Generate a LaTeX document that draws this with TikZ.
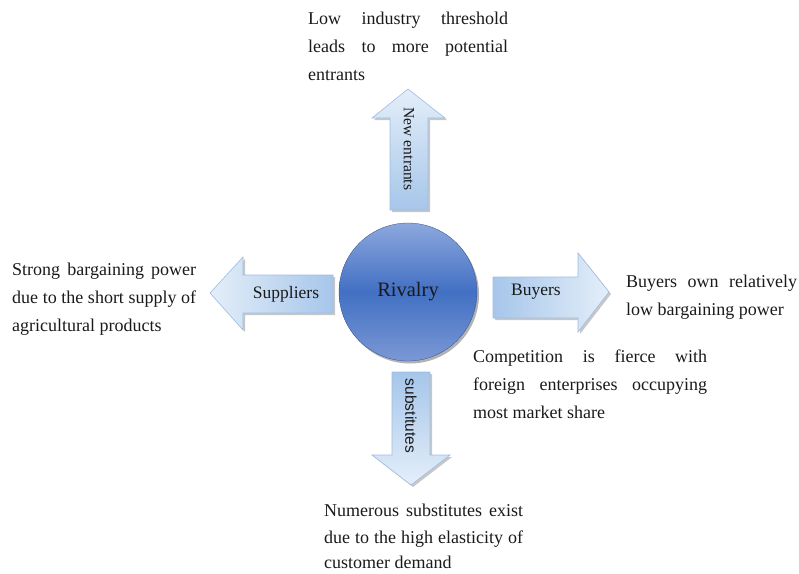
\documentclass[tikz,border=0pt]{standalone}
\usepackage{fontspec}
\setmainfont{Liberation Serif}
\newfontfamily\arialfont{Liberation Sans}
\usetikzlibrary{shadows}
\definecolor{arrlight}{HTML}{E4EEF9}
\definecolor{arrdark}{HTML}{A6C6EA}
\definecolor{arredge}{HTML}{9DBDE2}
\definecolor{ctop}{HTML}{8CA7DD}
\definecolor{cmid}{HTML}{4270C3}
\definecolor{cbot}{HTML}{7B98D5}
\definecolor{txt}{HTML}{1A1A1A}
\begin{document}
\begin{tikzpicture}[x=1pt,y=-1pt,
  arrowshape/.style={draw=arredge, line width=0.6pt, shading=axis,
    left color=arrlight, right color=arrdark,
    drop shadow={shadow xshift=2pt, shadow yshift=-2pt, fill=black, opacity=0.22}},
  bodytext/.style={anchor=base west, inner sep=0pt, text=txt, font=\fontsize{18}{28}\selectfont},
  arrowlabel/.style={inner sep=0pt, text=txt, font=\fontsize{17.5}{20}\selectfont},
  hub/.style={circle, minimum size=138pt, inner sep=0pt, shading=axis,
    top color=ctop, bottom color=cbot, middle color=cmid, draw=cmid!70!black, line width=0.3pt,
    drop shadow={shadow xshift=2pt, shadow yshift=-2.5pt, fill=black, opacity=0.3},
    font=\fontsize{20.5}{24}\selectfont, text=txt}]
\useasboundingbox (0,0) rectangle (799,573);

% arrows
\path[arrowshape, shading angle=0] (390,210) -- (390,118) -- (372,118) -- (408,89) -- (445,118) -- (428,118) -- (428,210) -- cycle;
\path[arrowshape, shading angle=90] (333,275) -- (243,275) -- (243,257) -- (210,293) -- (243,330) -- (243,313) -- (333,313) -- cycle;
\path[arrowshape, shading angle=-90] (493,277) -- (578,277) -- (578,253) -- (609,292) -- (578,332) -- (578,318) -- (493,318) -- cycle;
\path[arrowshape, shading angle=180] (392,372) -- (392,455) -- (372,455) -- (411,485) -- (450,455) -- (430,455) -- (430,372) -- cycle;

% hub
\node[hub] (rivalry) at (408,292) {Rivalry};

% arrow labels
\node[arrowlabel, rotate=-90, font=\fontsize{15.6}{18}\selectfont] (newent) at (409,149) {New entrants};
\node[arrowlabel] (suppliers) at (286,294) {Suppliers};
\node[arrowlabel] (buyers) at (536,292) {Buyers};
\node[arrowlabel, rotate=-90, font=\arialfont\fontsize{15.5}{18}\selectfont] (substitutes) at (411,416) {substitutes};

% texts
\node[bodytext] (t1) at (308,24) {\makebox[200pt][s]{Low industry threshold}};
\node[bodytext] (t2) at (308,52) {\makebox[200pt][s]{leads to more potential}};
\node[bodytext] (t3) at (308,80) {entrants};

\node[bodytext] (s1) at (12,275) {\makebox[184pt][s]{Strong bargaining power}};
\node[bodytext] (s2) at (12,303) {\makebox[184pt][s]{due to the short supply of}};
\node[bodytext] (s3) at (12,331) {agricultural products};

\node[bodytext] (b1) at (626,287) {\makebox[171pt][s]{Buyers own relatively}};
\node[bodytext] (b2) at (626,315) {low bargaining power};

\node[bodytext] (c1) at (473,362) {\makebox[234pt][s]{Competition is fierce with}};
\node[bodytext] (c2) at (473,390) {\makebox[234pt][s]{foreign enterprises occupying}};
\node[bodytext] (c3) at (473,418) {most market share};

\node[bodytext] (n1) at (324,516) {\makebox[199pt][s]{Numerous substitutes exist}};
\node[bodytext] (n2) at (324,543) {\makebox[199pt][s]{due to the high elasticity of}};
\node[bodytext] (n3) at (324,568) {customer demand};
\end{tikzpicture}
\end{document}
